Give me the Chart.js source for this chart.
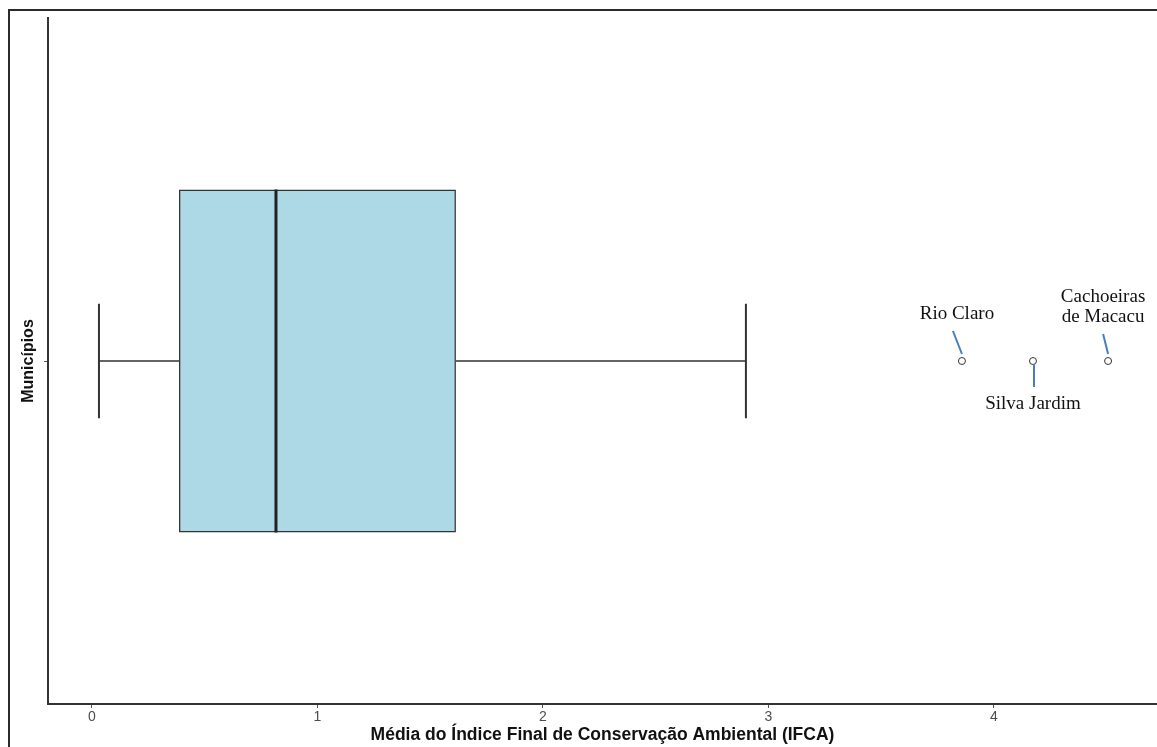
<!DOCTYPE html>
<html>
<head>
<meta charset="utf-8">
<script src="https://cdn.jsdelivr.net/npm/chart.js@4.4.1/dist/chart.umd.min.js"></script>
<style>
  html, body { margin: 0; padding: 0; background: #fff; }
  #wrap { position: relative; width: 1157px; height: 747px; overflow: hidden; }
  #frame { position: absolute; left: 8px; top: 9px; width: 1200px; height: 800px;
           border-left: 2px solid #2b2b2b; border-top: 2px solid #2b2b2b; }
  canvas { position: absolute; left: 0; top: 0; }
</style>
</head>
<body>
<div id="wrap">
  <div id="frame"></div>
  <canvas id="boxChart" width="1162" height="747"></canvas>
</div>
<script>
// IFCA summary per município
const categories = [''];
const whiskerLow = 0.031;
const q1 = 0.386;
const median = 0.816;
const q3 = 1.614;
const whiskerHigh = 2.9;
const outlierNames = [['Rio Claro'], ['Silva Jardim'], ['Cachoeiras', 'de Macacu']];
const outlierValues = [3.858, 4.173, 4.506];
const xTicks = [0, 1, 2, 3, 4];

// label placement around each outlier (pixel offsets from the point)
const labelLayout = [
  { tx: -5, ty: -47, line: [-9, -30, 0, -7] },
  { tx: 0, ty: 43, line: [1, 3, 1, 26] },
  { tx: -5, ty: -64, line: [-5, -27, 0, -7] }
];

// whiskers, caps and the median line
const boxLines = {
  id: 'boxLines',
  afterDatasetsDraw(chart) {
    const { ctx, scales: { x, y } } = chart;
    const cy = y.getPixelForValue(0);
    const h = chart.chartArea.bottom - chart.chartArea.top;
    const capHalf = h / 12;
    const boxHalf = h / 4;
    ctx.save();
    ctx.strokeStyle = '#333';
    ctx.lineWidth = 1.6;
    ctx.beginPath();
    ctx.moveTo(x.getPixelForValue(whiskerLow), cy);
    ctx.lineTo(x.getPixelForValue(q1), cy);
    ctx.moveTo(x.getPixelForValue(q3), cy);
    ctx.lineTo(x.getPixelForValue(whiskerHigh), cy);
    ctx.stroke();
    ctx.lineWidth = 2;
    ctx.beginPath();
    [whiskerLow, whiskerHigh].forEach(v => {
      const px = x.getPixelForValue(v);
      ctx.moveTo(px, cy - capHalf);
      ctx.lineTo(px, cy + capHalf);
    });
    ctx.stroke();
    ctx.strokeStyle = '#222';
    ctx.lineWidth = 3;
    ctx.beginPath();
    const mx = x.getPixelForValue(median);
    ctx.moveTo(mx, cy - boxHalf);
    ctx.lineTo(mx, cy + boxHalf);
    ctx.stroke();
    ctx.restore();
  }
};

// outlier names with leader lines
const outlierLabels = {
  id: 'outlierLabels',
  afterDatasetsDraw(chart) {
    const { ctx, scales: { x, y } } = chart;
    const cy = y.getPixelForValue(0);
    ctx.save();
    ctx.font = '19px "Liberation Serif", "Times New Roman", serif';
    ctx.textAlign = 'center';
    ctx.textBaseline = 'middle';
    outlierValues.forEach((v, i) => {
      const px = x.getPixelForValue(v);
      const l = labelLayout[i];
      ctx.strokeStyle = '#4a7ebb';
      ctx.lineWidth = 2;
      ctx.beginPath();
      ctx.moveTo(px + l.line[0], cy + l.line[1]);
      ctx.lineTo(px + l.line[2], cy + l.line[3]);
      ctx.stroke();
      ctx.fillStyle = '#111';
      outlierNames[i].forEach((t, k) => {
        ctx.fillText(t, px + l.tx, cy + l.ty + k * 20);
      });
    });
    ctx.restore();
  }
};

new Chart(document.getElementById('boxChart'), {
  data: {
    labels: categories,
    datasets: [
      {
        type: 'bar',
        indexAxis: 'y',
        data: [[q1, q3]],
        backgroundColor: '#add8e6',
        borderColor: '#333',
        borderWidth: 1.6,
        borderSkipped: false,
        barPercentage: 0.5,
        categoryPercentage: 1
      },
      {
        type: 'scatter',
        data: outlierValues.map(v => ({ x: v, y: categories[0] })),
        pointRadius: 3.5,
        pointBackgroundColor: '#fff',
        pointBorderColor: '#333',
        pointBorderWidth: 1
      }
    ]
  },
  options: {
    responsive: false,
    animation: false,
    layout: { padding: { top: 18, right: 0, left: 0, bottom: 0 } },
    plugins: { legend: { display: false }, tooltip: { enabled: false } },
    scales: {
      x: {
        type: 'linear',
        min: -0.195,
        max: 4.723,
        afterBuildTicks: s => { s.ticks = xTicks.map(v => ({ value: v })); },
        afterFit: s => { s.height = 43; },
        grid: { drawOnChartArea: false, drawTicks: true, tickLength: 4, color: '#555' },
        border: { display: true, color: '#333', width: 2 },
        ticks: { color: '#4d4d4d', padding: 1, font: { family: 'Arial, "Liberation Sans"', size: 14 } },
        title: {
          display: true,
          text: 'Média do Índice Final de Conservação Ambiental (IFCA)',
          color: '#111',
          padding: { top: 0, bottom: 1 },
          font: { family: 'Arial, "Liberation Sans"', size: 17.5, weight: 'bold' }
        }
      },
      y: {
        type: 'category',
        offset: true,
        afterFit: s => { s.width = 48; },
        grid: { offset: false, drawOnChartArea: false, drawTicks: true, tickLength: 4, color: '#555' },
        border: { display: true, color: '#333', width: 2 },
        ticks: { padding: 0, font: { size: 1 } },
        title: {
          display: true,
          text: 'Municípios',
          color: '#111',
          padding: { top: 19, bottom: 0 },
          font: { family: 'Arial, "Liberation Sans"', size: 16, weight: 'bold' }
        }
      }
    }
  },
  plugins: [boxLines, outlierLabels]
});
</script>
</body>
</html>
